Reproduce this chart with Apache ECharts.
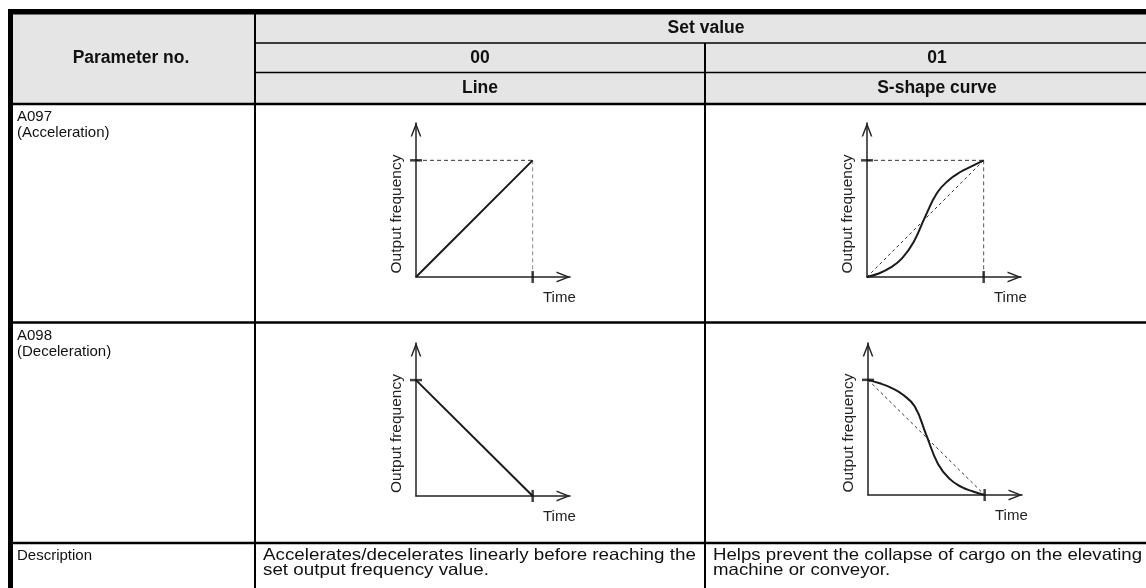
<!DOCTYPE html>
<html><head><meta charset="utf-8">
<script src="https://cdn.jsdelivr.net/npm/echarts@6/dist/echarts.min.js"></script>
<style>html,body{margin:0;padding:0;background:#fff}#c{width:1146px;height:588px}</style>
</head><body><div id="c"></div>
<script>
// ---- table text ----
const parameterHeader = 'Parameter no.';
const setValueHeader = 'Set value';
const setValues = ['00', '01'];
const methodNames = ['Line', 'S-shape curve'];
const rowLabels = [['A097', '(Acceleration)'], ['A098', '(Deceleration)']];
const descriptionLabel = 'Description';
const descriptions = [
  ['Accelerates/decelerates linearly before reaching the', 'set output frequency value.'],
  ['Helps prevent the collapse of cargo on the elevating', 'machine or conveyor.']
];
const yAxisName = 'Output frequency';
const xAxisName = 'Time';

// ---- chart data (normalised time / output frequency) ----
const linearTime = [0, 1];
const linearAccel = [0, 1];
const linearDecel = [1, 0];
const sTime = [0, 0.1, 0.2, 0.3, 0.4, 0.5, 0.6, 0.7, 0.8, 0.9, 1];
const sAccel = [0, 0.03, 0.08, 0.16, 0.30, 0.52, 0.72, 0.83, 0.90, 0.95, 1];
const sDecel = [1, 0.97, 0.93, 0.87, 0.77, 0.52, 0.27, 0.14, 0.07, 0.03, 0];
const setFrequency = 1;   // set output frequency level
const setTime = 1;        // time at which set value is reached
const axisMax = 1.32;

const FONT = "'Liberation Sans', Arial, Helvetica, sans-serif";
const zip = (xs, ys) => xs.map((x, i) => [x, ys[i]]);

const grids = [
  {left: 416, top: 123, width: 154, height: 154},
  {left: 867, top: 123, width: 154, height: 154},
  {left: 416, top: 343, width: 154, height: 153},
  {left: 868, top: 343, width: 154, height: 152}
];
const arrowPath = 'path://M5,0 L10,13 L8.6,13 L5,3.6 L1.4,13 L0,13 Z';

const xAxes = grids.map((gr, i) => ({
  gridIndex: i, type: 'value', min: 0, max: axisMax,
  axisLine: {show: true, onZero: false, lineStyle: {color: '#222', width: 1.5},
    symbol: ['none', arrowPath], symbolSize: [11, 14], symbolOffset: [0, -6.5]},
  axisTick: {show: false}, axisLabel: {show: false}, splitLine: {show: false},
  name: xAxisName, nameLocation: 'end', nameGap: -27,
  nameTextStyle: {fontFamily: FONT, fontSize: 15, color: '#222', align: 'left', verticalAlign: 'top', padding: [13, 0, 0, 0]}
}));
const yAxes = grids.map((gr, i) => ({
  gridIndex: i, type: 'value', min: 0, max: axisMax,
  axisLine: {show: true, onZero: false, lineStyle: {color: '#222', width: 1.5},
    symbol: ['none', arrowPath], symbolSize: [11, 14], symbolOffset: [0, -6.5]},
  axisTick: {show: false}, axisLabel: {show: false}, splitLine: {show: false},
  name: yAxisName, nameLocation: 'middle', nameGap: 11,
  nameTextStyle: {fontFamily: FONT, fontSize: 15.5, color: '#222', padding: [0, 28, 0, 0]}
}));

const series = [];
function curve(i, data, smooth) {
  series.push({type: 'line', xAxisIndex: i, yAxisIndex: i, data, symbol: 'none', smooth: smooth,
    silent: true, z: 4, lineStyle: {color: '#1a1a1a', width: 2}});
}
function dashed(i, data, color, dash) {
  series.push({type: 'line', xAxisIndex: i, yAxisIndex: i, data, symbol: 'none', silent: true, z: 3,
    lineStyle: {color: color, width: 1, type: dash}});
}
function ticks(i, yTick, xTick) {
  series.push({type: 'scatter', xAxisIndex: i, yAxisIndex: i, silent: true, clip: false, z: 5,
    itemStyle: {color: '#111'},
    data: [
      {value: [0, yTick], symbol: 'rect', symbolSize: [12, 2.5]},
      {value: [xTick, 0], symbol: 'rect', symbolSize: [2.5, 12]}
    ]});
}
// chart 0: linear acceleration
curve(0, zip(linearTime, linearAccel), false);
dashed(0, [[0, setFrequency], [setTime, setFrequency]], '#333', [4, 3]);
dashed(0, [[setTime, setFrequency], [setTime, 0]], '#888', [4, 3]);
ticks(0, setFrequency, setTime);
// chart 1: S-curve acceleration
curve(1, zip(sTime, sAccel), 0.45);
dashed(1, zip(linearTime, linearAccel), '#333', [3, 3]);
dashed(1, [[0, setFrequency], [setTime, setFrequency]], '#333', [4, 3]);
dashed(1, [[setTime, setFrequency], [setTime, 0]], '#555', [4, 3]);
ticks(1, setFrequency, setTime);
// chart 2: linear deceleration
curve(2, zip(linearTime, linearDecel), false);
ticks(2, setFrequency, setTime);
// chart 3: S-curve deceleration
curve(3, zip(sTime, sDecel), 0.45);
dashed(3, zip(linearTime, linearDecel), '#333', [3, 3]);
ticks(3, setFrequency, setTime);

// ---- table drawing ----
const W = 1146, H = 588;
const colX = [13, 255, 705];
const headerLines = [43, 72.5];
const headerBottom = 104;
const rowSeps = [322.5, 543];
const g = [];
g.push({type: 'rect', shape: {x: 13, y: 14, width: W, height: headerBottom - 14}, style: {fill: '#e5e5e5'}, z: 0});
g.push({type: 'rect', shape: {x: 8, y: 9, width: W, height: 5.5}, style: {fill: '#000'}, z: 2});
g.push({type: 'rect', shape: {x: 8, y: 9, width: 5, height: H}, style: {fill: '#000'}, z: 2});
const hline = (y, x1, w) => g.push({type: 'line', shape: {x1: x1, y1: y, x2: W + 10, y2: y}, style: {stroke: '#000', lineWidth: w}, z: 2});
hline(headerLines[0], colX[1], 1.6);
hline(headerLines[1], colX[1], 1.6);
hline(headerBottom, 13, 2.6);
rowSeps.forEach(y => hline(y, 13, 2.4));
g.push({type: 'line', shape: {x1: colX[1], y1: 14, x2: colX[1], y2: H + 5}, style: {stroke: '#000', lineWidth: 2}, z: 2});
g.push({type: 'line', shape: {x1: colX[2], y1: headerLines[0], x2: colX[2], y2: H + 5}, style: {stroke: '#000', lineWidth: 2}, z: 2});

function txt(t, x, y, opts, extra) {
  g.push(Object.assign({type: 'text', x: x, y: y, z: 3, style: Object.assign({text: t, fill: '#111', font: '15px ' + FONT,
    align: 'left', verticalAlign: 'middle', textAlign: 'left', textVerticalAlign: 'middle'}, opts || {})}, extra || {}));
}
const boldHdr = {font: 'bold 17.5px ' + FONT, align: 'center', textAlign: 'center'};
txt(parameterHeader, 131, 58.5, boldHdr);
txt(setValueHeader, (colX[1] + 1157) / 2, 28, boldHdr);
txt(setValues[0], (colX[1] + colX[2]) / 2, 58, boldHdr);
txt(setValues[1], (colX[2] + 1169) / 2, 58, boldHdr);
txt(methodNames[0], (colX[1] + colX[2]) / 2, 88, boldHdr);
txt(methodNames[1], (colX[2] + 1169) / 2, 88, boldHdr);
const topAlign = {verticalAlign: 'top', textVerticalAlign: 'top', lineHeight: 16};
txt(rowLabels[0].join('\n'), 17, headerBottom + 5, topAlign);
txt(rowLabels[1].join('\n'), 17, rowSeps[0] + 5, topAlign);
txt(descriptionLabel, 17, rowSeps[1] + 5, topAlign);
const para = {verticalAlign: 'top', textVerticalAlign: 'top', lineHeight: 15, font: '16.5px ' + FONT};
txt(descriptions[0].join('\n'), colX[1] + 8, rowSeps[1] + 5, para, {scaleX: 1.14});
txt(descriptions[1].join('\n'), colX[2] + 8, rowSeps[1] + 5, para, {scaleX: 1.13});

const chart = echarts.init(document.getElementById('c'), null, {renderer: 'canvas'});
chart.setOption({
  animation: false,
  backgroundColor: '#fff',
  grid: grids,
  xAxis: xAxes,
  yAxis: yAxes,
  series: series,
  graphic: {elements: g}
});
</script></body></html>
